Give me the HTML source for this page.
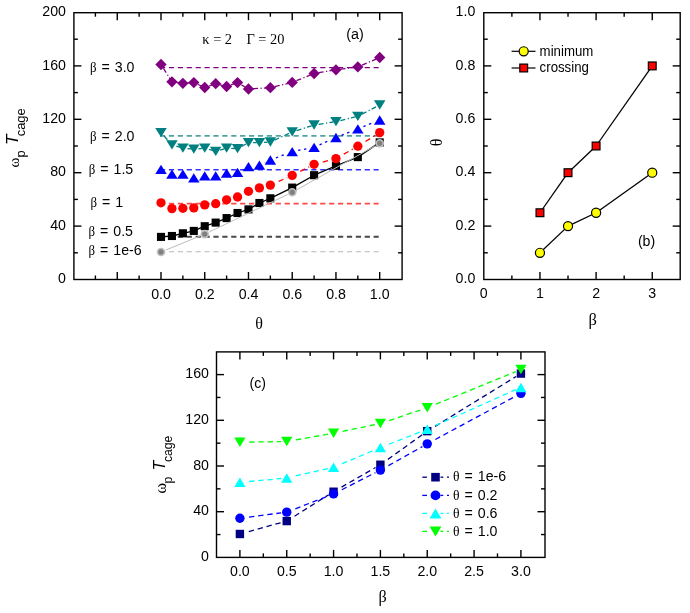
<!DOCTYPE html>
<html><head><meta charset="utf-8"><title>chart</title>
<style>html,body{margin:0;padding:0;background:#fff;}svg{display:block;will-change:transform;}text{fill:#000;}</style></head>
<body><svg width="690" height="613" viewBox="0 0 690 613">
<rect width="690" height="613" fill="#fff"/>
<line x1="160" y1="67.7" x2="378.7" y2="67.7" stroke="#800080" stroke-width="1.3" stroke-dasharray="5.2 3.7" stroke-linecap="butt"/>
<line x1="160" y1="135.9" x2="378.7" y2="135.9" stroke="#52a2a2" stroke-width="1.7" stroke-dasharray="5.2 3.7" stroke-linecap="butt"/>
<line x1="160" y1="169.8" x2="378.7" y2="169.8" stroke="#3030ff" stroke-width="1.6" stroke-dasharray="5.2 3.7" stroke-linecap="butt"/>
<line x1="160" y1="203.6" x2="378.7" y2="203.6" stroke="#ff4848" stroke-width="1.6" stroke-dasharray="5.2 3.7" stroke-linecap="butt"/>
<line x1="160" y1="236.8" x2="378.7" y2="236.8" stroke="#484848" stroke-width="2.0" stroke-dasharray="5.2 3.7" stroke-linecap="butt"/>
<line x1="160" y1="251.8" x2="378.7" y2="251.8" stroke="#b8b8b8" stroke-width="1.1" stroke-dasharray="5.2 3.7" stroke-linecap="butt"/>
<line x1="161" y1="236.9" x2="171.94" y2="236" stroke="#000" stroke-width="1.3" stroke-linecap="butt"/>
<line x1="171.94" y1="236" x2="182.87" y2="233.3" stroke="#000" stroke-width="1.3" stroke-linecap="butt"/>
<line x1="182.87" y1="233.3" x2="193.81" y2="230.9" stroke="#000" stroke-width="1.3" stroke-linecap="butt"/>
<line x1="193.81" y1="230.9" x2="204.74" y2="226.2" stroke="#000" stroke-width="1.3" stroke-linecap="butt"/>
<line x1="204.74" y1="226.2" x2="215.68" y2="222.6" stroke="#000" stroke-width="1.3" stroke-linecap="butt"/>
<line x1="215.68" y1="222.6" x2="226.61" y2="218.1" stroke="#000" stroke-width="1.3" stroke-linecap="butt"/>
<line x1="226.61" y1="218.1" x2="237.54" y2="213" stroke="#000" stroke-width="1.3" stroke-linecap="butt"/>
<line x1="237.54" y1="213" x2="248.48" y2="209.4" stroke="#000" stroke-width="1.3" stroke-linecap="butt"/>
<line x1="248.48" y1="209.4" x2="259.41" y2="203" stroke="#000" stroke-width="1.3" stroke-linecap="butt"/>
<line x1="259.41" y1="203" x2="270.35" y2="198.3" stroke="#000" stroke-width="1.3" stroke-linecap="butt"/>
<line x1="270.35" y1="198.3" x2="292.22" y2="187.6" stroke="#000" stroke-width="1.3" stroke-linecap="butt"/>
<line x1="292.22" y1="187.6" x2="314.09" y2="175.2" stroke="#000" stroke-width="1.3" stroke-linecap="butt"/>
<line x1="314.09" y1="175.2" x2="335.96" y2="165.8" stroke="#000" stroke-width="1.3" stroke-linecap="butt"/>
<line x1="335.96" y1="165.8" x2="357.83" y2="157.1" stroke="#000" stroke-width="1.3" stroke-linecap="butt"/>
<line x1="357.83" y1="157.1" x2="379.7" y2="142.4" stroke="#000" stroke-width="1.3" stroke-linecap="butt"/>
<rect x="156.95" y="232.85" width="8.1" height="8.1" fill="#000"/>
<rect x="167.88" y="231.95" width="8.1" height="8.1" fill="#000"/>
<rect x="178.82" y="229.25" width="8.1" height="8.1" fill="#000"/>
<rect x="189.75" y="226.85" width="8.1" height="8.1" fill="#000"/>
<rect x="200.69" y="222.15" width="8.1" height="8.1" fill="#000"/>
<rect x="211.62" y="218.55" width="8.1" height="8.1" fill="#000"/>
<rect x="222.56" y="214.05" width="8.1" height="8.1" fill="#000"/>
<rect x="233.49" y="208.95" width="8.1" height="8.1" fill="#000"/>
<rect x="244.43" y="205.35" width="8.1" height="8.1" fill="#000"/>
<rect x="255.36" y="198.95" width="8.1" height="8.1" fill="#000"/>
<rect x="266.3" y="194.25" width="8.1" height="8.1" fill="#000"/>
<rect x="288.17" y="183.55" width="8.1" height="8.1" fill="#000"/>
<rect x="310.04" y="171.15" width="8.1" height="8.1" fill="#000"/>
<rect x="331.91" y="161.75" width="8.1" height="8.1" fill="#000"/>
<rect x="353.78" y="153.05" width="8.1" height="8.1" fill="#000"/>
<rect x="375.65" y="138.35" width="8.1" height="8.1" fill="#000"/>
<line x1="165.63" y1="250.11" x2="200.11" y2="235.99" stroke="#bcbcbc" stroke-width="1.0" stroke-linecap="butt"/>
<line x1="209.25" y1="231.94" x2="287.71" y2="194.46" stroke="#bcbcbc" stroke-width="1.0" stroke-linecap="butt"/>
<line x1="296.58" y1="189.86" x2="375.34" y2="145.74" stroke="#bcbcbc" stroke-width="1.0" stroke-linecap="butt"/>
<circle cx="161" cy="252" r="3.5" fill="#808080" stroke="#c0c0c0" stroke-width="1.6"/>
<circle cx="204.74" cy="234.1" r="3.5" fill="#808080" stroke="#c0c0c0" stroke-width="1.6"/>
<circle cx="292.22" cy="192.3" r="3.5" fill="#808080" stroke="#c0c0c0" stroke-width="1.6"/>
<circle cx="379.7" cy="143.3" r="3.5" fill="#808080" stroke="#c0c0c0" stroke-width="1.6"/>
<line x1="165.95" y1="205.42" x2="166.99" y2="205.98" stroke="#ff0000" stroke-width="1.3" stroke-dasharray="5.4 3.6" stroke-linecap="butt" stroke-dashoffset="5.6"/>
<line x1="242.51" y1="194.41" x2="243.51" y2="193.89" stroke="#ff0000" stroke-width="1.3" stroke-dasharray="5.4 3.6" stroke-linecap="butt" stroke-dashoffset="5.6"/>
<line x1="275.47" y1="182.83" x2="287.1" y2="177.67" stroke="#ff0000" stroke-width="1.3" stroke-dasharray="5.4 3.6" stroke-linecap="butt" stroke-dashoffset="5.6"/>
<line x1="297.21" y1="172.87" x2="309.1" y2="166.83" stroke="#ff0000" stroke-width="1.3" stroke-dasharray="5.4 3.6" stroke-linecap="butt" stroke-dashoffset="5.6"/>
<line x1="319.51" y1="162.89" x2="330.54" y2="160.01" stroke="#ff0000" stroke-width="1.3" stroke-dasharray="5.4 3.6" stroke-linecap="butt" stroke-dashoffset="5.6"/>
<line x1="340.83" y1="155.84" x2="352.96" y2="148.96" stroke="#ff0000" stroke-width="1.3" stroke-dasharray="5.4 3.6" stroke-linecap="butt" stroke-dashoffset="5.6"/>
<line x1="362.59" y1="143.24" x2="374.94" y2="135.56" stroke="#ff0000" stroke-width="1.3" stroke-dasharray="5.4 3.6" stroke-linecap="butt" stroke-dashoffset="5.6"/>
<circle cx="161" cy="202.8" r="4.65" fill="#ff0000"/>
<circle cx="171.94" cy="208.6" r="4.65" fill="#ff0000"/>
<circle cx="182.87" cy="208.3" r="4.65" fill="#ff0000"/>
<circle cx="193.81" cy="207.9" r="4.65" fill="#ff0000"/>
<circle cx="204.74" cy="204.9" r="4.65" fill="#ff0000"/>
<circle cx="215.68" cy="203.7" r="4.65" fill="#ff0000"/>
<circle cx="226.61" cy="199.8" r="4.65" fill="#ff0000"/>
<circle cx="237.54" cy="197" r="4.65" fill="#ff0000"/>
<circle cx="248.48" cy="191.3" r="4.65" fill="#ff0000"/>
<circle cx="259.41" cy="187.9" r="4.65" fill="#ff0000"/>
<circle cx="270.35" cy="185.1" r="4.65" fill="#ff0000"/>
<circle cx="292.22" cy="175.4" r="4.65" fill="#ff0000"/>
<circle cx="314.09" cy="164.3" r="4.65" fill="#ff0000"/>
<circle cx="335.96" cy="158.6" r="4.65" fill="#ff0000"/>
<circle cx="357.83" cy="146.2" r="4.65" fill="#ff0000"/>
<circle cx="379.7" cy="132.6" r="4.65" fill="#ff0000"/>
<line x1="242.69" y1="169.72" x2="243.34" y2="169.38" stroke="#0000ff" stroke-width="1.3" stroke-dasharray="2.4 3.6" stroke-linecap="butt" stroke-dashoffset="5.8"/>
<line x1="264.65" y1="162.71" x2="265.11" y2="162.49" stroke="#0000ff" stroke-width="1.3" stroke-dasharray="2.4 3.6" stroke-linecap="butt" stroke-dashoffset="5.8"/>
<line x1="275.76" y1="157.92" x2="286.81" y2="153.68" stroke="#0000ff" stroke-width="1.3" stroke-dasharray="2.4 3.6" stroke-linecap="butt" stroke-dashoffset="5.8"/>
<line x1="297.91" y1="150.48" x2="308.4" y2="148.42" stroke="#0000ff" stroke-width="1.3" stroke-dasharray="2.4 3.6" stroke-linecap="butt" stroke-dashoffset="5.8"/>
<line x1="319.38" y1="144.93" x2="330.67" y2="139.87" stroke="#0000ff" stroke-width="1.3" stroke-dasharray="2.4 3.6" stroke-linecap="butt" stroke-dashoffset="5.8"/>
<line x1="341.35" y1="135.36" x2="352.44" y2="130.94" stroke="#0000ff" stroke-width="1.3" stroke-dasharray="2.4 3.6" stroke-linecap="butt" stroke-dashoffset="5.8"/>
<line x1="363.21" y1="126.63" x2="374.32" y2="122.17" stroke="#0000ff" stroke-width="1.3" stroke-dasharray="2.4 3.6" stroke-linecap="butt" stroke-dashoffset="5.8"/>
<polygon points="161,164.65 166.75,173.95 155.25,173.95" fill="#0000ff"/>
<polygon points="171.94,169.55 177.69,178.85 166.19,178.85" fill="#0000ff"/>
<polygon points="182.87,169.55 188.62,178.85 177.12,178.85" fill="#0000ff"/>
<polygon points="193.81,173.15 199.56,182.45 188.06,182.45" fill="#0000ff"/>
<polygon points="204.74,171.25 210.49,180.55 198.99,180.55" fill="#0000ff"/>
<polygon points="215.68,171.25 221.43,180.55 209.93,180.55" fill="#0000ff"/>
<polygon points="226.61,168.45 232.36,177.75 220.86,177.75" fill="#0000ff"/>
<polygon points="237.54,167.75 243.29,177.05 231.79,177.05" fill="#0000ff"/>
<polygon points="248.48,162.05 254.23,171.35 242.73,171.35" fill="#0000ff"/>
<polygon points="259.41,160.55 265.16,169.85 253.66,169.85" fill="#0000ff"/>
<polygon points="270.35,155.35 276.1,164.65 264.6,164.65" fill="#0000ff"/>
<polygon points="292.22,146.95 297.97,156.25 286.47,156.25" fill="#0000ff"/>
<polygon points="314.09,142.65 319.84,151.95 308.34,151.95" fill="#0000ff"/>
<polygon points="335.96,132.85 341.71,142.15 330.21,142.15" fill="#0000ff"/>
<polygon points="357.83,124.15 363.58,133.45 352.08,133.45" fill="#0000ff"/>
<polygon points="379.7,115.35 385.45,124.65 373.95,124.65" fill="#0000ff"/>
<line x1="164.06" y1="136.04" x2="170.21" y2="142.96" stroke="#008080" stroke-width="1.3" stroke-dasharray="5 2.5 1.2 2.2" stroke-linecap="butt"/>
<line x1="176.34" y1="146.23" x2="180.38" y2="147.45" stroke="#008080" stroke-width="1.3" stroke-dasharray="5 2.5 1.2 2.2" stroke-linecap="butt"/>
<line x1="187.45" y1="148.62" x2="191.22" y2="148.96" stroke="#008080" stroke-width="1.3" stroke-dasharray="5 2.5 1.2 2.2" stroke-linecap="butt"/>
<line x1="198.39" y1="148.78" x2="202.15" y2="148.44" stroke="#008080" stroke-width="1.3" stroke-dasharray="5 2.5 1.2 2.2" stroke-linecap="butt"/>
<line x1="209.15" y1="149.49" x2="213.18" y2="150.67" stroke="#008080" stroke-width="1.3" stroke-dasharray="5 2.5 1.2 2.2" stroke-linecap="butt"/>
<line x1="220.09" y1="150.11" x2="224.11" y2="148.93" stroke="#008080" stroke-width="1.3" stroke-dasharray="5 2.5 1.2 2.2" stroke-linecap="butt"/>
<line x1="231.21" y1="148.37" x2="234.95" y2="148.5" stroke="#008080" stroke-width="1.3" stroke-dasharray="5 2.5 1.2 2.2" stroke-linecap="butt"/>
<line x1="241.58" y1="146.39" x2="246.2" y2="143.85" stroke="#008080" stroke-width="1.3" stroke-dasharray="5 2.5 1.2 2.2" stroke-linecap="butt"/>
<line x1="253.08" y1="142.6" x2="256.81" y2="142.6" stroke="#008080" stroke-width="1.3" stroke-dasharray="5 2.5 1.2 2.2" stroke-linecap="butt"/>
<line x1="264.01" y1="142.35" x2="267.75" y2="142.14" stroke="#008080" stroke-width="1.3" stroke-dasharray="5 2.5 1.2 2.2" stroke-linecap="butt"/>
<line x1="274.53" y1="140.07" x2="289.86" y2="132.99" stroke="#008080" stroke-width="1.3" stroke-dasharray="5 2.5 1.2 2.2" stroke-linecap="butt"/>
<line x1="296.61" y1="130.52" x2="311.61" y2="125.78" stroke="#008080" stroke-width="1.3" stroke-dasharray="5 2.5 1.2 2.2" stroke-linecap="butt"/>
<line x1="318.64" y1="124.29" x2="333.39" y2="122" stroke="#008080" stroke-width="1.3" stroke-dasharray="5 2.5 1.2 2.2" stroke-linecap="butt"/>
<line x1="340.43" y1="120.52" x2="355.3" y2="116.91" stroke="#008080" stroke-width="1.3" stroke-dasharray="5 2.5 1.2 2.2" stroke-linecap="butt"/>
<line x1="361.92" y1="114.19" x2="377.39" y2="106.19" stroke="#008080" stroke-width="1.3" stroke-dasharray="5 2.5 1.2 2.2" stroke-linecap="butt"/>
<polygon points="161,137.25 166.75,127.95 155.25,127.95" fill="#008080"/>
<polygon points="171.94,149.55 177.69,140.25 166.19,140.25" fill="#008080"/>
<polygon points="182.87,152.85 188.62,143.55 177.12,143.55" fill="#008080"/>
<polygon points="193.81,153.85 199.56,144.55 188.06,144.55" fill="#008080"/>
<polygon points="204.74,152.85 210.49,143.55 198.99,143.55" fill="#008080"/>
<polygon points="215.68,156.05 221.43,146.75 209.93,146.75" fill="#008080"/>
<polygon points="226.61,152.85 232.36,143.55 220.86,143.55" fill="#008080"/>
<polygon points="237.54,153.25 243.29,143.95 231.79,143.95" fill="#008080"/>
<polygon points="248.48,147.25 254.23,137.95 242.73,137.95" fill="#008080"/>
<polygon points="259.41,147.25 265.16,137.95 253.66,137.95" fill="#008080"/>
<polygon points="270.35,146.65 276.1,137.35 264.6,137.35" fill="#008080"/>
<polygon points="292.22,136.55 297.97,127.25 286.47,127.25" fill="#008080"/>
<polygon points="314.09,129.65 319.84,120.35 308.34,120.35" fill="#008080"/>
<polygon points="335.96,126.25 341.71,116.95 330.21,116.95" fill="#008080"/>
<polygon points="357.83,120.95 363.58,111.65 352.08,111.65" fill="#008080"/>
<polygon points="379.7,109.65 385.45,100.35 373.95,100.35" fill="#008080"/>
<line x1="163.46" y1="68.39" x2="170.55" y2="79.6" stroke="#800080" stroke-width="1.3" stroke-dasharray="5 2.5 1.2 2.2" stroke-linecap="butt"/>
<line x1="176.49" y1="82.43" x2="180.29" y2="82.95" stroke="#800080" stroke-width="1.3" stroke-dasharray="5 2.5 1.2 2.2" stroke-linecap="butt"/>
<line x1="187.46" y1="83.01" x2="191.21" y2="82.77" stroke="#800080" stroke-width="1.3" stroke-dasharray="5 2.5 1.2 2.2" stroke-linecap="butt"/>
<line x1="198" y1="84.48" x2="202.37" y2="86.44" stroke="#800080" stroke-width="1.3" stroke-dasharray="5 2.5 1.2 2.2" stroke-linecap="butt"/>
<line x1="209.09" y1="85.99" x2="213.22" y2="84.55" stroke="#800080" stroke-width="1.3" stroke-dasharray="5 2.5 1.2 2.2" stroke-linecap="butt"/>
<line x1="220.13" y1="84.84" x2="224.09" y2="85.86" stroke="#800080" stroke-width="1.3" stroke-dasharray="5 2.5 1.2 2.2" stroke-linecap="butt"/>
<line x1="230.94" y1="84.95" x2="235.1" y2="83.47" stroke="#800080" stroke-width="1.3" stroke-dasharray="5 2.5 1.2 2.2" stroke-linecap="butt"/>
<line x1="241.52" y1="84.92" x2="246.24" y2="87.69" stroke="#800080" stroke-width="1.3" stroke-dasharray="5 2.5 1.2 2.2" stroke-linecap="butt"/>
<line x1="253.07" y1="88.73" x2="267.75" y2="87.85" stroke="#800080" stroke-width="1.3" stroke-dasharray="5 2.5 1.2 2.2" stroke-linecap="butt"/>
<line x1="274.82" y1="86.62" x2="289.69" y2="83.01" stroke="#800080" stroke-width="1.3" stroke-dasharray="5 2.5 1.2 2.2" stroke-linecap="butt"/>
<line x1="296.48" y1="80.67" x2="311.68" y2="74.48" stroke="#800080" stroke-width="1.3" stroke-dasharray="5 2.5 1.2 2.2" stroke-linecap="butt"/>
<line x1="318.63" y1="72.73" x2="333.4" y2="70.23" stroke="#800080" stroke-width="1.3" stroke-dasharray="5 2.5 1.2 2.2" stroke-linecap="butt"/>
<line x1="340.52" y1="69.2" x2="355.25" y2="67.24" stroke="#800080" stroke-width="1.3" stroke-dasharray="5 2.5 1.2 2.2" stroke-linecap="butt"/>
<line x1="362.06" y1="65.08" x2="377.31" y2="58.53" stroke="#800080" stroke-width="1.3" stroke-dasharray="5 2.5 1.2 2.2" stroke-linecap="butt"/>
<polygon points="161,58.85 166.65,64.5 161,70.15 155.35,64.5" fill="#800080"/>
<polygon points="171.94,76.15 177.59,81.8 171.94,87.45 166.28,81.8" fill="#800080"/>
<polygon points="182.87,77.65 188.52,83.3 182.87,88.95 177.22,83.3" fill="#800080"/>
<polygon points="193.81,76.95 199.46,82.6 193.81,88.25 188.16,82.6" fill="#800080"/>
<polygon points="204.74,81.85 210.39,87.5 204.74,93.15 199.09,87.5" fill="#800080"/>
<polygon points="215.68,78.05 221.33,83.7 215.68,89.35 210.03,83.7" fill="#800080"/>
<polygon points="226.61,80.85 232.26,86.5 226.61,92.15 220.96,86.5" fill="#800080"/>
<polygon points="237.54,76.95 243.19,82.6 237.54,88.25 231.89,82.6" fill="#800080"/>
<polygon points="248.48,83.35 254.13,89 248.48,94.65 242.83,89" fill="#800080"/>
<polygon points="270.35,82.05 276,87.7 270.35,93.35 264.7,87.7" fill="#800080"/>
<polygon points="292.22,76.75 297.87,82.4 292.22,88.05 286.57,82.4" fill="#800080"/>
<polygon points="314.09,67.85 319.74,73.5 314.09,79.15 308.44,73.5" fill="#800080"/>
<polygon points="335.96,64.15 341.61,69.8 335.96,75.45 330.31,69.8" fill="#800080"/>
<polygon points="357.83,61.25 363.48,66.9 357.83,72.55 352.18,66.9" fill="#800080"/>
<polygon points="379.7,51.85 385.35,57.5 379.7,63.15 374.05,57.5" fill="#800080"/>
<rect x="73.9" y="12.7" width="328.2" height="266.8" fill="none" stroke="#000" stroke-width="1.4"/>
<line x1="117.26" y1="279.5" x2="117.26" y2="272" stroke="#000" stroke-width="1.4" stroke-linecap="butt"/>
<line x1="117.26" y1="12.7" x2="117.26" y2="20.2" stroke="#000" stroke-width="1.4" stroke-linecap="butt"/>
<line x1="161" y1="279.5" x2="161" y2="272" stroke="#000" stroke-width="1.4" stroke-linecap="butt"/>
<line x1="161" y1="12.7" x2="161" y2="20.2" stroke="#000" stroke-width="1.4" stroke-linecap="butt"/>
<line x1="204.74" y1="279.5" x2="204.74" y2="272" stroke="#000" stroke-width="1.4" stroke-linecap="butt"/>
<line x1="204.74" y1="12.7" x2="204.74" y2="20.2" stroke="#000" stroke-width="1.4" stroke-linecap="butt"/>
<line x1="248.48" y1="279.5" x2="248.48" y2="272" stroke="#000" stroke-width="1.4" stroke-linecap="butt"/>
<line x1="248.48" y1="12.7" x2="248.48" y2="20.2" stroke="#000" stroke-width="1.4" stroke-linecap="butt"/>
<line x1="292.22" y1="279.5" x2="292.22" y2="272" stroke="#000" stroke-width="1.4" stroke-linecap="butt"/>
<line x1="292.22" y1="12.7" x2="292.22" y2="20.2" stroke="#000" stroke-width="1.4" stroke-linecap="butt"/>
<line x1="335.96" y1="279.5" x2="335.96" y2="272" stroke="#000" stroke-width="1.4" stroke-linecap="butt"/>
<line x1="335.96" y1="12.7" x2="335.96" y2="20.2" stroke="#000" stroke-width="1.4" stroke-linecap="butt"/>
<line x1="379.7" y1="279.5" x2="379.7" y2="272" stroke="#000" stroke-width="1.4" stroke-linecap="butt"/>
<line x1="379.7" y1="12.7" x2="379.7" y2="20.2" stroke="#000" stroke-width="1.4" stroke-linecap="butt"/>
<line x1="95.39" y1="279.5" x2="95.39" y2="275.5" stroke="#000" stroke-width="1.4" stroke-linecap="butt"/>
<line x1="95.39" y1="12.7" x2="95.39" y2="16.7" stroke="#000" stroke-width="1.4" stroke-linecap="butt"/>
<line x1="139.13" y1="279.5" x2="139.13" y2="275.5" stroke="#000" stroke-width="1.4" stroke-linecap="butt"/>
<line x1="139.13" y1="12.7" x2="139.13" y2="16.7" stroke="#000" stroke-width="1.4" stroke-linecap="butt"/>
<line x1="182.87" y1="279.5" x2="182.87" y2="275.5" stroke="#000" stroke-width="1.4" stroke-linecap="butt"/>
<line x1="182.87" y1="12.7" x2="182.87" y2="16.7" stroke="#000" stroke-width="1.4" stroke-linecap="butt"/>
<line x1="226.61" y1="279.5" x2="226.61" y2="275.5" stroke="#000" stroke-width="1.4" stroke-linecap="butt"/>
<line x1="226.61" y1="12.7" x2="226.61" y2="16.7" stroke="#000" stroke-width="1.4" stroke-linecap="butt"/>
<line x1="270.35" y1="279.5" x2="270.35" y2="275.5" stroke="#000" stroke-width="1.4" stroke-linecap="butt"/>
<line x1="270.35" y1="12.7" x2="270.35" y2="16.7" stroke="#000" stroke-width="1.4" stroke-linecap="butt"/>
<line x1="314.09" y1="279.5" x2="314.09" y2="275.5" stroke="#000" stroke-width="1.4" stroke-linecap="butt"/>
<line x1="314.09" y1="12.7" x2="314.09" y2="16.7" stroke="#000" stroke-width="1.4" stroke-linecap="butt"/>
<line x1="357.83" y1="279.5" x2="357.83" y2="275.5" stroke="#000" stroke-width="1.4" stroke-linecap="butt"/>
<line x1="357.83" y1="12.7" x2="357.83" y2="16.7" stroke="#000" stroke-width="1.4" stroke-linecap="butt"/>
<line x1="73.9" y1="226.1" x2="81.4" y2="226.1" stroke="#000" stroke-width="1.4" stroke-linecap="butt"/>
<line x1="402.1" y1="226.1" x2="394.6" y2="226.1" stroke="#000" stroke-width="1.4" stroke-linecap="butt"/>
<line x1="73.9" y1="172.7" x2="81.4" y2="172.7" stroke="#000" stroke-width="1.4" stroke-linecap="butt"/>
<line x1="402.1" y1="172.7" x2="394.6" y2="172.7" stroke="#000" stroke-width="1.4" stroke-linecap="butt"/>
<line x1="73.9" y1="119.3" x2="81.4" y2="119.3" stroke="#000" stroke-width="1.4" stroke-linecap="butt"/>
<line x1="402.1" y1="119.3" x2="394.6" y2="119.3" stroke="#000" stroke-width="1.4" stroke-linecap="butt"/>
<line x1="73.9" y1="65.9" x2="81.4" y2="65.9" stroke="#000" stroke-width="1.4" stroke-linecap="butt"/>
<line x1="402.1" y1="65.9" x2="394.6" y2="65.9" stroke="#000" stroke-width="1.4" stroke-linecap="butt"/>
<line x1="73.9" y1="252.8" x2="77.9" y2="252.8" stroke="#000" stroke-width="1.4" stroke-linecap="butt"/>
<line x1="402.1" y1="252.8" x2="398.1" y2="252.8" stroke="#000" stroke-width="1.4" stroke-linecap="butt"/>
<line x1="73.9" y1="199.4" x2="77.9" y2="199.4" stroke="#000" stroke-width="1.4" stroke-linecap="butt"/>
<line x1="402.1" y1="199.4" x2="398.1" y2="199.4" stroke="#000" stroke-width="1.4" stroke-linecap="butt"/>
<line x1="73.9" y1="146" x2="77.9" y2="146" stroke="#000" stroke-width="1.4" stroke-linecap="butt"/>
<line x1="402.1" y1="146" x2="398.1" y2="146" stroke="#000" stroke-width="1.4" stroke-linecap="butt"/>
<line x1="73.9" y1="92.6" x2="77.9" y2="92.6" stroke="#000" stroke-width="1.4" stroke-linecap="butt"/>
<line x1="402.1" y1="92.6" x2="398.1" y2="92.6" stroke="#000" stroke-width="1.4" stroke-linecap="butt"/>
<line x1="73.9" y1="39.2" x2="77.9" y2="39.2" stroke="#000" stroke-width="1.4" stroke-linecap="butt"/>
<line x1="402.1" y1="39.2" x2="398.1" y2="39.2" stroke="#000" stroke-width="1.4" stroke-linecap="butt"/>
<text transform="translate(66,283.1) scale(0.945,1)" font-family="Liberation Sans" font-size="15" text-anchor="end">0</text>
<text transform="translate(66,229.7) scale(0.945,1)" font-family="Liberation Sans" font-size="15" text-anchor="end">40</text>
<text transform="translate(66,176.3) scale(0.945,1)" font-family="Liberation Sans" font-size="15" text-anchor="end">80</text>
<text transform="translate(66,122.9) scale(0.945,1)" font-family="Liberation Sans" font-size="15" text-anchor="end">120</text>
<text transform="translate(66,69.5) scale(0.945,1)" font-family="Liberation Sans" font-size="15" text-anchor="end">160</text>
<text transform="translate(66,16.1) scale(0.945,1)" font-family="Liberation Sans" font-size="15" text-anchor="end">200</text>
<text transform="translate(161,299) scale(0.945,1)" font-family="Liberation Sans" font-size="15" text-anchor="middle">0.0</text>
<text transform="translate(204.74,299) scale(0.945,1)" font-family="Liberation Sans" font-size="15" text-anchor="middle">0.2</text>
<text transform="translate(248.48,299) scale(0.945,1)" font-family="Liberation Sans" font-size="15" text-anchor="middle">0.4</text>
<text transform="translate(292.22,299) scale(0.945,1)" font-family="Liberation Sans" font-size="15" text-anchor="middle">0.6</text>
<text transform="translate(335.96,299) scale(0.945,1)" font-family="Liberation Sans" font-size="15" text-anchor="middle">0.8</text>
<text transform="translate(379.7,299) scale(0.945,1)" font-family="Liberation Sans" font-size="15" text-anchor="middle">1.0</text>
<text transform="translate(90,72) scale(0.945,1)" font-size="15" text-anchor="start" word-spacing="1.1"><tspan font-family="Liberation Serif" font-size="13.6">β</tspan><tspan font-family="Liberation Sans">&#160;=&#160;3.0</tspan></text>
<text transform="translate(90,141) scale(0.945,1)" font-size="15" text-anchor="start" word-spacing="1.1"><tspan font-family="Liberation Serif" font-size="13.6">β</tspan><tspan font-family="Liberation Sans">&#160;=&#160;2.0</tspan></text>
<text transform="translate(88.8,174.4) scale(0.945,1)" font-size="15" text-anchor="start" word-spacing="1.1"><tspan font-family="Liberation Serif" font-size="13.6">β</tspan><tspan font-family="Liberation Sans">&#160;=&#160;1.5</tspan></text>
<text transform="translate(90.4,206.5) scale(0.945,1)" font-size="15" text-anchor="start" word-spacing="1.1"><tspan font-family="Liberation Serif" font-size="13.6">β</tspan><tspan font-family="Liberation Sans">&#160;=&#160;1</tspan></text>
<text transform="translate(88.5,236) scale(0.945,1)" font-size="15" text-anchor="start" word-spacing="1.1"><tspan font-family="Liberation Serif" font-size="13.6">β</tspan><tspan font-family="Liberation Sans">&#160;=&#160;0.5</tspan></text>
<text transform="translate(88.5,254.7) scale(0.945,1)" font-size="15" text-anchor="start" word-spacing="1.1"><tspan font-family="Liberation Serif" font-size="13.6">β</tspan><tspan font-family="Liberation Sans">&#160;=&#160;1e-6</tspan></text>
<text x="202.3" y="43.8" font-family="Liberation Serif" font-size="14.4">κ = 2&#160;&#160;&#160;&#160;Γ = 20</text>
<text transform="translate(346.2,38.6) scale(0.945,1)" font-family="Liberation Sans" font-size="15.2" text-anchor="start">(a)</text>
<text x="259.2" y="328.7" font-family="Liberation Serif" font-size="16" text-anchor="middle">θ</text>
<g transform="translate(18.5,167.6) rotate(-90)"><text transform="scale(1.0,1)" x="0" y="0" font-family="Liberation Serif" font-size="15">ω</text><text x="10.0" y="6" font-family="Liberation Sans" font-size="12.9">p</text><text x="22.7" y="-0.7" font-family="Liberation Sans" font-size="17.3" font-style="italic">T</text><text x="31.3" y="6" font-family="Liberation Sans" font-size="12.9">cage</text></g>
<line x1="539.95" y1="252.8" x2="568.02" y2="226.1" stroke="#000" stroke-width="1.3" stroke-linecap="butt"/>
<line x1="568.02" y1="226.1" x2="596.1" y2="212.75" stroke="#000" stroke-width="1.3" stroke-linecap="butt"/>
<line x1="596.1" y1="212.75" x2="652.25" y2="172.7" stroke="#000" stroke-width="1.3" stroke-linecap="butt"/>
<line x1="539.95" y1="212.75" x2="568.02" y2="172.7" stroke="#000" stroke-width="1.3" stroke-linecap="butt"/>
<line x1="568.02" y1="172.7" x2="596.1" y2="146" stroke="#000" stroke-width="1.3" stroke-linecap="butt"/>
<line x1="596.1" y1="146" x2="652.25" y2="65.9" stroke="#000" stroke-width="1.3" stroke-linecap="butt"/>
<circle cx="539.95" cy="252.8" r="4.55" fill="#ffff00" stroke="#000" stroke-width="1.2"/>
<circle cx="568.02" cy="226.1" r="4.55" fill="#ffff00" stroke="#000" stroke-width="1.2"/>
<circle cx="596.1" cy="212.75" r="4.55" fill="#ffff00" stroke="#000" stroke-width="1.2"/>
<circle cx="652.25" cy="172.7" r="4.55" fill="#ffff00" stroke="#000" stroke-width="1.2"/>
<rect x="536.05" y="208.85" width="7.8" height="7.8" fill="#ff0000" stroke="#000" stroke-width="1.2"/>
<rect x="564.12" y="168.8" width="7.8" height="7.8" fill="#ff0000" stroke="#000" stroke-width="1.2"/>
<rect x="592.2" y="142.1" width="7.8" height="7.8" fill="#ff0000" stroke="#000" stroke-width="1.2"/>
<rect x="648.35" y="62" width="7.8" height="7.8" fill="#ff0000" stroke="#000" stroke-width="1.2"/>
<rect x="483.8" y="12.7" width="196.4" height="266.8" fill="none" stroke="#000" stroke-width="1.4"/>
<line x1="539.95" y1="279.5" x2="539.95" y2="272" stroke="#000" stroke-width="1.4" stroke-linecap="butt"/>
<line x1="539.95" y1="12.7" x2="539.95" y2="20.2" stroke="#000" stroke-width="1.4" stroke-linecap="butt"/>
<line x1="596.1" y1="279.5" x2="596.1" y2="272" stroke="#000" stroke-width="1.4" stroke-linecap="butt"/>
<line x1="596.1" y1="12.7" x2="596.1" y2="20.2" stroke="#000" stroke-width="1.4" stroke-linecap="butt"/>
<line x1="652.25" y1="279.5" x2="652.25" y2="272" stroke="#000" stroke-width="1.4" stroke-linecap="butt"/>
<line x1="652.25" y1="12.7" x2="652.25" y2="20.2" stroke="#000" stroke-width="1.4" stroke-linecap="butt"/>
<line x1="511.88" y1="279.5" x2="511.88" y2="275.5" stroke="#000" stroke-width="1.4" stroke-linecap="butt"/>
<line x1="511.88" y1="12.7" x2="511.88" y2="16.7" stroke="#000" stroke-width="1.4" stroke-linecap="butt"/>
<line x1="568.02" y1="279.5" x2="568.02" y2="275.5" stroke="#000" stroke-width="1.4" stroke-linecap="butt"/>
<line x1="568.02" y1="12.7" x2="568.02" y2="16.7" stroke="#000" stroke-width="1.4" stroke-linecap="butt"/>
<line x1="624.17" y1="279.5" x2="624.17" y2="275.5" stroke="#000" stroke-width="1.4" stroke-linecap="butt"/>
<line x1="624.17" y1="12.7" x2="624.17" y2="16.7" stroke="#000" stroke-width="1.4" stroke-linecap="butt"/>
<line x1="483.8" y1="226.1" x2="491.3" y2="226.1" stroke="#000" stroke-width="1.4" stroke-linecap="butt"/>
<line x1="680.2" y1="226.1" x2="672.7" y2="226.1" stroke="#000" stroke-width="1.4" stroke-linecap="butt"/>
<line x1="483.8" y1="172.7" x2="491.3" y2="172.7" stroke="#000" stroke-width="1.4" stroke-linecap="butt"/>
<line x1="680.2" y1="172.7" x2="672.7" y2="172.7" stroke="#000" stroke-width="1.4" stroke-linecap="butt"/>
<line x1="483.8" y1="119.3" x2="491.3" y2="119.3" stroke="#000" stroke-width="1.4" stroke-linecap="butt"/>
<line x1="680.2" y1="119.3" x2="672.7" y2="119.3" stroke="#000" stroke-width="1.4" stroke-linecap="butt"/>
<line x1="483.8" y1="65.9" x2="491.3" y2="65.9" stroke="#000" stroke-width="1.4" stroke-linecap="butt"/>
<line x1="680.2" y1="65.9" x2="672.7" y2="65.9" stroke="#000" stroke-width="1.4" stroke-linecap="butt"/>
<line x1="483.8" y1="252.8" x2="487.8" y2="252.8" stroke="#000" stroke-width="1.4" stroke-linecap="butt"/>
<line x1="680.2" y1="252.8" x2="676.2" y2="252.8" stroke="#000" stroke-width="1.4" stroke-linecap="butt"/>
<line x1="483.8" y1="199.4" x2="487.8" y2="199.4" stroke="#000" stroke-width="1.4" stroke-linecap="butt"/>
<line x1="680.2" y1="199.4" x2="676.2" y2="199.4" stroke="#000" stroke-width="1.4" stroke-linecap="butt"/>
<line x1="483.8" y1="146" x2="487.8" y2="146" stroke="#000" stroke-width="1.4" stroke-linecap="butt"/>
<line x1="680.2" y1="146" x2="676.2" y2="146" stroke="#000" stroke-width="1.4" stroke-linecap="butt"/>
<line x1="483.8" y1="92.6" x2="487.8" y2="92.6" stroke="#000" stroke-width="1.4" stroke-linecap="butt"/>
<line x1="680.2" y1="92.6" x2="676.2" y2="92.6" stroke="#000" stroke-width="1.4" stroke-linecap="butt"/>
<line x1="483.8" y1="39.2" x2="487.8" y2="39.2" stroke="#000" stroke-width="1.4" stroke-linecap="butt"/>
<line x1="680.2" y1="39.2" x2="676.2" y2="39.2" stroke="#000" stroke-width="1.4" stroke-linecap="butt"/>
<text transform="translate(475.3,283.2) scale(0.945,1)" font-family="Liberation Sans" font-size="15" text-anchor="end">0.0</text>
<text transform="translate(475.3,229.8) scale(0.945,1)" font-family="Liberation Sans" font-size="15" text-anchor="end">0.2</text>
<text transform="translate(475.3,176.4) scale(0.945,1)" font-family="Liberation Sans" font-size="15" text-anchor="end">0.4</text>
<text transform="translate(475.3,123) scale(0.945,1)" font-family="Liberation Sans" font-size="15" text-anchor="end">0.6</text>
<text transform="translate(475.3,69.6) scale(0.945,1)" font-family="Liberation Sans" font-size="15" text-anchor="end">0.8</text>
<text transform="translate(475.3,16.2) scale(0.945,1)" font-family="Liberation Sans" font-size="15" text-anchor="end">1.0</text>
<text transform="translate(483.8,298.3) scale(0.945,1)" font-family="Liberation Sans" font-size="15" text-anchor="middle">0</text>
<text transform="translate(539.95,298.3) scale(0.945,1)" font-family="Liberation Sans" font-size="15" text-anchor="middle">1</text>
<text transform="translate(596.1,298.3) scale(0.945,1)" font-family="Liberation Sans" font-size="15" text-anchor="middle">2</text>
<text transform="translate(652.25,298.3) scale(0.945,1)" font-family="Liberation Sans" font-size="15" text-anchor="middle">3</text>
<line x1="511.6" y1="51.3" x2="535.5" y2="51.3" stroke="#000" stroke-width="1.2" stroke-linecap="butt"/>
<circle cx="523.7" cy="51.3" r="4.55" fill="#ffff00" stroke="#000" stroke-width="1.2"/>
<line x1="511.6" y1="68" x2="535.5" y2="68" stroke="#000" stroke-width="1.2" stroke-linecap="butt"/>
<rect x="519.8" y="64.1" width="7.8" height="7.8" fill="#ff0000" stroke="#000" stroke-width="1.2"/>
<text transform="translate(539.6,55.5) scale(0.92,1)" font-family="Liberation Sans" font-size="14.4" text-anchor="start">minimum</text>
<text transform="translate(539.6,71.9) scale(0.92,1)" font-family="Liberation Sans" font-size="14.4" text-anchor="start">crossing</text>
<text transform="translate(637.9,245.8) scale(0.945,1)" font-family="Liberation Sans" font-size="15" text-anchor="start">(b)</text>
<text x="592.7" y="324.6" font-family="Liberation Serif" font-size="16.5" text-anchor="middle">β</text>
<g transform="translate(441.7,142.5) rotate(-90)"><text x="0" y="0" font-family="Liberation Serif" font-size="16" text-anchor="middle">θ</text></g>
<line x1="245.3" y1="532.49" x2="281.34" y2="522.56" stroke="#000080" stroke-width="1.3" stroke-dasharray="5.4 3.8" stroke-linecap="butt" stroke-dashoffset="5.6"/>
<line x1="291.48" y1="518.09" x2="328.83" y2="494.68" stroke="#000080" stroke-width="1.3" stroke-dasharray="5.4 3.8" stroke-linecap="butt" stroke-dashoffset="5.6"/>
<line x1="338.42" y1="488.91" x2="375.55" y2="467.54" stroke="#000080" stroke-width="1.3" stroke-dasharray="5.4 3.8" stroke-linecap="butt" stroke-dashoffset="5.6"/>
<line x1="384.96" y1="461.48" x2="422.69" y2="434.42" stroke="#000080" stroke-width="1.3" stroke-dasharray="5.4 3.8" stroke-linecap="butt" stroke-dashoffset="5.6"/>
<line x1="432.01" y1="428.22" x2="516.14" y2="376.5" stroke="#000080" stroke-width="1.3" stroke-dasharray="5.4 3.8" stroke-linecap="butt" stroke-dashoffset="5.6"/>
<rect x="235.7" y="529.78" width="8.4" height="8.4" fill="#000080"/>
<rect x="282.54" y="516.87" width="8.4" height="8.4" fill="#000080"/>
<rect x="329.37" y="487.51" width="8.4" height="8.4" fill="#000080"/>
<rect x="376.2" y="460.54" width="8.4" height="8.4" fill="#000080"/>
<rect x="423.04" y="426.95" width="8.4" height="8.4" fill="#000080"/>
<rect x="516.71" y="369.37" width="8.4" height="8.4" fill="#000080"/>
<line x1="245.45" y1="517.49" x2="281.18" y2="512.88" stroke="#0000ff" stroke-width="1.3" stroke-dasharray="5.4 3.8" stroke-linecap="butt" stroke-dashoffset="5.6"/>
<line x1="291.95" y1="510.12" x2="328.35" y2="495.91" stroke="#0000ff" stroke-width="1.3" stroke-dasharray="5.4 3.8" stroke-linecap="butt" stroke-dashoffset="5.6"/>
<line x1="338.56" y1="491.34" x2="375.41" y2="472.65" stroke="#0000ff" stroke-width="1.3" stroke-dasharray="5.4 3.8" stroke-linecap="butt" stroke-dashoffset="5.6"/>
<line x1="385.29" y1="467.37" x2="422.36" y2="446.58" stroke="#0000ff" stroke-width="1.3" stroke-dasharray="5.4 3.8" stroke-linecap="butt" stroke-dashoffset="5.6"/>
<line x1="432.17" y1="441.18" x2="515.98" y2="395.99" stroke="#0000ff" stroke-width="1.3" stroke-dasharray="5.4 3.8" stroke-linecap="butt" stroke-dashoffset="5.6"/>
<circle cx="239.9" cy="518.21" r="4.7" fill="#0000ff"/>
<circle cx="286.74" cy="512.16" r="4.7" fill="#0000ff"/>
<circle cx="333.57" cy="493.88" r="4.7" fill="#0000ff"/>
<circle cx="380.4" cy="470.11" r="4.7" fill="#0000ff"/>
<circle cx="427.24" cy="443.84" r="4.7" fill="#0000ff"/>
<circle cx="520.91" cy="393.34" r="4.7" fill="#0000ff"/>
<line x1="245.48" y1="481.82" x2="281.16" y2="478.51" stroke="#00ffff" stroke-width="1.3" stroke-dasharray="5.4 3.8" stroke-linecap="butt" stroke-dashoffset="5.6"/>
<line x1="292.19" y1="476.74" x2="328.11" y2="468.51" stroke="#00ffff" stroke-width="1.3" stroke-dasharray="5.4 3.8" stroke-linecap="butt" stroke-dashoffset="5.6"/>
<line x1="338.73" y1="465.09" x2="375.24" y2="449.77" stroke="#00ffff" stroke-width="1.3" stroke-dasharray="5.4 3.8" stroke-linecap="butt" stroke-dashoffset="5.6"/>
<line x1="385.62" y1="445.56" x2="422.03" y2="431.26" stroke="#00ffff" stroke-width="1.3" stroke-dasharray="5.4 3.8" stroke-linecap="butt" stroke-dashoffset="5.6"/>
<line x1="432.35" y1="426.93" x2="515.8" y2="389.68" stroke="#00ffff" stroke-width="1.3" stroke-dasharray="5.4 3.8" stroke-linecap="butt" stroke-dashoffset="5.6"/>
<polygon points="239.9,477.59 245.5,487.09 234.3,487.09" fill="#00ffff"/>
<polygon points="286.74,473.25 292.34,482.75 281.13,482.75" fill="#00ffff"/>
<polygon points="333.57,462.51 339.17,472.01 327.97,472.01" fill="#00ffff"/>
<polygon points="380.4,442.86 386,452.36 374.8,452.36" fill="#00ffff"/>
<polygon points="427.24,424.46 432.84,433.96 421.64,433.96" fill="#00ffff"/>
<polygon points="520.91,382.65 526.51,392.15 515.31,392.15" fill="#00ffff"/>
<line x1="245.5" y1="442.15" x2="281.14" y2="441.63" stroke="#00ff00" stroke-width="1.3" stroke-dasharray="5.4 3.8" stroke-linecap="butt" stroke-dashoffset="5.6"/>
<line x1="292.25" y1="440.57" x2="328.06" y2="434.19" stroke="#00ff00" stroke-width="1.3" stroke-dasharray="5.4 3.8" stroke-linecap="butt" stroke-dashoffset="5.6"/>
<line x1="339.05" y1="432.07" x2="374.92" y2="424.64" stroke="#00ff00" stroke-width="1.3" stroke-dasharray="5.4 3.8" stroke-linecap="butt" stroke-dashoffset="5.6"/>
<line x1="385.71" y1="421.71" x2="421.93" y2="409.52" stroke="#00ff00" stroke-width="1.3" stroke-dasharray="5.4 3.8" stroke-linecap="butt" stroke-dashoffset="5.6"/>
<line x1="432.43" y1="405.62" x2="515.72" y2="371.69" stroke="#00ff00" stroke-width="1.3" stroke-dasharray="5.4 3.8" stroke-linecap="butt" stroke-dashoffset="5.6"/>
<polygon points="239.9,446.99 245.5,437.49 234.3,437.49" fill="#00ff00"/>
<polygon points="286.74,446.3 292.34,436.8 281.13,436.8" fill="#00ff00"/>
<polygon points="333.57,437.96 339.17,428.46 327.97,428.46" fill="#00ff00"/>
<polygon points="380.4,428.25 386,418.75 374.8,418.75" fill="#00ff00"/>
<polygon points="427.24,412.48 432.84,402.98 421.64,402.98" fill="#00ff00"/>
<polygon points="520.91,374.32 526.51,364.82 515.31,364.82" fill="#00ff00"/>
<rect x="216.5" y="351.9" width="328.5" height="205.5" fill="none" stroke="#000" stroke-width="1.4"/>
<line x1="239.9" y1="557.4" x2="239.9" y2="549.9" stroke="#000" stroke-width="1.4" stroke-linecap="butt"/>
<line x1="239.9" y1="351.9" x2="239.9" y2="359.4" stroke="#000" stroke-width="1.4" stroke-linecap="butt"/>
<line x1="286.74" y1="557.4" x2="286.74" y2="549.9" stroke="#000" stroke-width="1.4" stroke-linecap="butt"/>
<line x1="286.74" y1="351.9" x2="286.74" y2="359.4" stroke="#000" stroke-width="1.4" stroke-linecap="butt"/>
<line x1="333.57" y1="557.4" x2="333.57" y2="549.9" stroke="#000" stroke-width="1.4" stroke-linecap="butt"/>
<line x1="333.57" y1="351.9" x2="333.57" y2="359.4" stroke="#000" stroke-width="1.4" stroke-linecap="butt"/>
<line x1="380.4" y1="557.4" x2="380.4" y2="549.9" stroke="#000" stroke-width="1.4" stroke-linecap="butt"/>
<line x1="380.4" y1="351.9" x2="380.4" y2="359.4" stroke="#000" stroke-width="1.4" stroke-linecap="butt"/>
<line x1="427.24" y1="557.4" x2="427.24" y2="549.9" stroke="#000" stroke-width="1.4" stroke-linecap="butt"/>
<line x1="427.24" y1="351.9" x2="427.24" y2="359.4" stroke="#000" stroke-width="1.4" stroke-linecap="butt"/>
<line x1="474.08" y1="557.4" x2="474.08" y2="549.9" stroke="#000" stroke-width="1.4" stroke-linecap="butt"/>
<line x1="474.08" y1="351.9" x2="474.08" y2="359.4" stroke="#000" stroke-width="1.4" stroke-linecap="butt"/>
<line x1="520.91" y1="557.4" x2="520.91" y2="549.9" stroke="#000" stroke-width="1.4" stroke-linecap="butt"/>
<line x1="520.91" y1="351.9" x2="520.91" y2="359.4" stroke="#000" stroke-width="1.4" stroke-linecap="butt"/>
<line x1="263.32" y1="557.4" x2="263.32" y2="553.4" stroke="#000" stroke-width="1.4" stroke-linecap="butt"/>
<line x1="263.32" y1="351.9" x2="263.32" y2="355.9" stroke="#000" stroke-width="1.4" stroke-linecap="butt"/>
<line x1="310.15" y1="557.4" x2="310.15" y2="553.4" stroke="#000" stroke-width="1.4" stroke-linecap="butt"/>
<line x1="310.15" y1="351.9" x2="310.15" y2="355.9" stroke="#000" stroke-width="1.4" stroke-linecap="butt"/>
<line x1="356.99" y1="557.4" x2="356.99" y2="553.4" stroke="#000" stroke-width="1.4" stroke-linecap="butt"/>
<line x1="356.99" y1="351.9" x2="356.99" y2="355.9" stroke="#000" stroke-width="1.4" stroke-linecap="butt"/>
<line x1="403.82" y1="557.4" x2="403.82" y2="553.4" stroke="#000" stroke-width="1.4" stroke-linecap="butt"/>
<line x1="403.82" y1="351.9" x2="403.82" y2="355.9" stroke="#000" stroke-width="1.4" stroke-linecap="butt"/>
<line x1="450.66" y1="557.4" x2="450.66" y2="553.4" stroke="#000" stroke-width="1.4" stroke-linecap="butt"/>
<line x1="450.66" y1="351.9" x2="450.66" y2="355.9" stroke="#000" stroke-width="1.4" stroke-linecap="butt"/>
<line x1="497.49" y1="557.4" x2="497.49" y2="553.4" stroke="#000" stroke-width="1.4" stroke-linecap="butt"/>
<line x1="497.49" y1="351.9" x2="497.49" y2="355.9" stroke="#000" stroke-width="1.4" stroke-linecap="butt"/>
<line x1="216.5" y1="511.7" x2="224" y2="511.7" stroke="#000" stroke-width="1.4" stroke-linecap="butt"/>
<line x1="545" y1="511.7" x2="537.5" y2="511.7" stroke="#000" stroke-width="1.4" stroke-linecap="butt"/>
<line x1="216.5" y1="466" x2="224" y2="466" stroke="#000" stroke-width="1.4" stroke-linecap="butt"/>
<line x1="545" y1="466" x2="537.5" y2="466" stroke="#000" stroke-width="1.4" stroke-linecap="butt"/>
<line x1="216.5" y1="420.3" x2="224" y2="420.3" stroke="#000" stroke-width="1.4" stroke-linecap="butt"/>
<line x1="545" y1="420.3" x2="537.5" y2="420.3" stroke="#000" stroke-width="1.4" stroke-linecap="butt"/>
<line x1="216.5" y1="374.6" x2="224" y2="374.6" stroke="#000" stroke-width="1.4" stroke-linecap="butt"/>
<line x1="545" y1="374.6" x2="537.5" y2="374.6" stroke="#000" stroke-width="1.4" stroke-linecap="butt"/>
<line x1="216.5" y1="534.55" x2="220.5" y2="534.55" stroke="#000" stroke-width="1.4" stroke-linecap="butt"/>
<line x1="545" y1="534.55" x2="541" y2="534.55" stroke="#000" stroke-width="1.4" stroke-linecap="butt"/>
<line x1="216.5" y1="488.85" x2="220.5" y2="488.85" stroke="#000" stroke-width="1.4" stroke-linecap="butt"/>
<line x1="545" y1="488.85" x2="541" y2="488.85" stroke="#000" stroke-width="1.4" stroke-linecap="butt"/>
<line x1="216.5" y1="443.15" x2="220.5" y2="443.15" stroke="#000" stroke-width="1.4" stroke-linecap="butt"/>
<line x1="545" y1="443.15" x2="541" y2="443.15" stroke="#000" stroke-width="1.4" stroke-linecap="butt"/>
<line x1="216.5" y1="397.45" x2="220.5" y2="397.45" stroke="#000" stroke-width="1.4" stroke-linecap="butt"/>
<line x1="545" y1="397.45" x2="541" y2="397.45" stroke="#000" stroke-width="1.4" stroke-linecap="butt"/>
<text transform="translate(209,561.1) scale(0.945,1)" font-family="Liberation Sans" font-size="15" text-anchor="end">0</text>
<text transform="translate(209,515.4) scale(0.945,1)" font-family="Liberation Sans" font-size="15" text-anchor="end">40</text>
<text transform="translate(209,469.7) scale(0.945,1)" font-family="Liberation Sans" font-size="15" text-anchor="end">80</text>
<text transform="translate(209,424) scale(0.945,1)" font-family="Liberation Sans" font-size="15" text-anchor="end">120</text>
<text transform="translate(209,378.3) scale(0.945,1)" font-family="Liberation Sans" font-size="15" text-anchor="end">160</text>
<text transform="translate(239.9,576.2) scale(0.945,1)" font-family="Liberation Sans" font-size="15" text-anchor="middle">0.0</text>
<text transform="translate(286.74,576.2) scale(0.945,1)" font-family="Liberation Sans" font-size="15" text-anchor="middle">0.5</text>
<text transform="translate(333.57,576.2) scale(0.945,1)" font-family="Liberation Sans" font-size="15" text-anchor="middle">1.0</text>
<text transform="translate(380.4,576.2) scale(0.945,1)" font-family="Liberation Sans" font-size="15" text-anchor="middle">1.5</text>
<text transform="translate(427.24,576.2) scale(0.945,1)" font-family="Liberation Sans" font-size="15" text-anchor="middle">2.0</text>
<text transform="translate(474.08,576.2) scale(0.945,1)" font-family="Liberation Sans" font-size="15" text-anchor="middle">2.5</text>
<text transform="translate(520.91,576.2) scale(0.945,1)" font-family="Liberation Sans" font-size="15" text-anchor="middle">3.0</text>
<text transform="translate(249.5,387.7) scale(0.945,1)" font-family="Liberation Sans" font-size="15" text-anchor="start">(c)</text>
<line x1="422.3" y1="477.2" x2="427" y2="477.2" stroke="#000080" stroke-width="1.3" stroke-linecap="butt"/>
<line x1="440.5" y1="477.2" x2="443.3" y2="477.2" stroke="#000080" stroke-width="1.3" stroke-linecap="butt"/>
<line x1="447" y1="477.2" x2="449" y2="477.2" stroke="#000080" stroke-width="1.3" stroke-linecap="butt"/>
<rect x="431.2" y="472.9" width="8.6" height="8.6" fill="#000080"/>
<text transform="translate(453,481.4) scale(0.945,1)" font-size="15" text-anchor="start" word-spacing="1.1"><tspan font-family="Liberation Serif" font-size="14.5">θ</tspan><tspan font-family="Liberation Sans">&#160;=&#160;1e-6</tspan></text>
<line x1="422.3" y1="495.4" x2="427" y2="495.4" stroke="#0000ff" stroke-width="1.3" stroke-linecap="butt"/>
<line x1="440.5" y1="495.4" x2="443.3" y2="495.4" stroke="#0000ff" stroke-width="1.3" stroke-linecap="butt"/>
<line x1="447" y1="495.4" x2="449" y2="495.4" stroke="#0000ff" stroke-width="1.3" stroke-linecap="butt"/>
<circle cx="435.5" cy="495.4" r="4.9" fill="#0000ff"/>
<text transform="translate(453,499.6) scale(0.945,1)" font-size="15" text-anchor="start" word-spacing="1.1"><tspan font-family="Liberation Serif" font-size="14.5">θ</tspan><tspan font-family="Liberation Sans">&#160;=&#160;0.2</tspan></text>
<line x1="422.3" y1="513.4" x2="427" y2="513.4" stroke="#00ffff" stroke-width="1.3" stroke-linecap="butt"/>
<line x1="440.5" y1="513.4" x2="443.3" y2="513.4" stroke="#00ffff" stroke-width="1.3" stroke-linecap="butt"/>
<line x1="447" y1="513.4" x2="449" y2="513.4" stroke="#00ffff" stroke-width="1.3" stroke-linecap="butt"/>
<polygon points="435.5,508.4 441.4,518.4 429.6,518.4" fill="#00ffff"/>
<text transform="translate(453,517.6) scale(0.945,1)" font-size="15" text-anchor="start" word-spacing="1.1"><tspan font-family="Liberation Serif" font-size="14.5">θ</tspan><tspan font-family="Liberation Sans">&#160;=&#160;0.6</tspan></text>
<line x1="422.3" y1="531.4" x2="427" y2="531.4" stroke="#00ff00" stroke-width="1.3" stroke-linecap="butt"/>
<line x1="440.5" y1="531.4" x2="443.3" y2="531.4" stroke="#00ff00" stroke-width="1.3" stroke-linecap="butt"/>
<line x1="447" y1="531.4" x2="449" y2="531.4" stroke="#00ff00" stroke-width="1.3" stroke-linecap="butt"/>
<polygon points="435.5,536.4 441.4,526.4 429.6,526.4" fill="#00ff00"/>
<text transform="translate(453,535.6) scale(0.945,1)" font-size="15" text-anchor="start" word-spacing="1.1"><tspan font-family="Liberation Serif" font-size="14.5">θ</tspan><tspan font-family="Liberation Sans">&#160;=&#160;1.0</tspan></text>
<text x="382.7" y="602.3" font-family="Liberation Serif" font-size="16.2" text-anchor="middle">β</text>
<g transform="translate(165.6,493.4) rotate(-90)"><text transform="scale(1.0,1)" x="0" y="0" font-family="Liberation Serif" font-size="16">ω</text><text x="9.8" y="6" font-family="Liberation Sans" font-size="12.2">p</text><text x="23" y="-0.7" font-family="Liberation Sans" font-size="16" font-style="italic">T</text><text x="31.3" y="6" font-family="Liberation Sans" font-size="12.2">cage</text></g>
</svg></body></html>
